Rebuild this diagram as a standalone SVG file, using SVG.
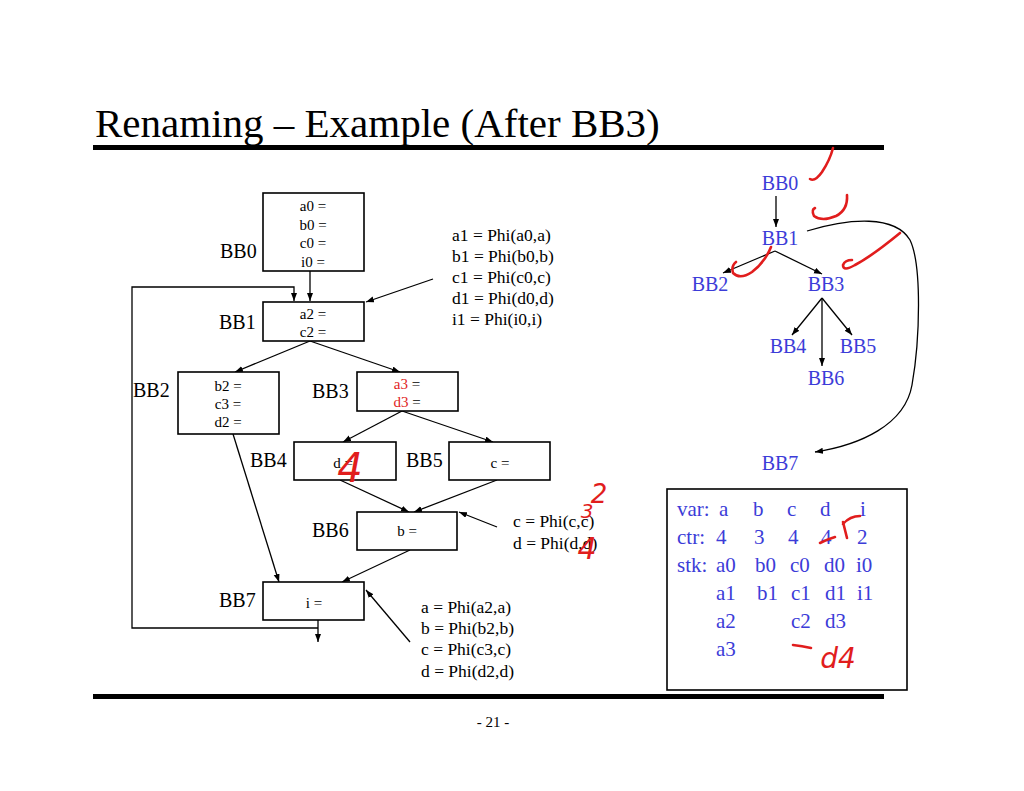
<svg xmlns="http://www.w3.org/2000/svg" width="1024" height="791" viewBox="0 0 1024 791">
<defs>
<marker id="ah" markerWidth="9" markerHeight="7" refX="8" refY="3" orient="auto" markerUnits="userSpaceOnUse">
<path d="M0,0 L8,3 L0,6 z" fill="#000"/>
</marker>
<style>
.t{font-family:"Liberation Serif","Times New Roman",serif;fill:#000}
.lbl{font-size:20px}
.bx{font-size:15px;text-anchor:middle}
.phi{font-size:17.5px}
.tr{font-size:20px;fill:#3c3cd8;text-anchor:middle}
.tb{font-size:21px;fill:#3c3cd8}
.box{fill:#fff;stroke:#000;stroke-width:1.6}
.c{fill:none;stroke:#000;stroke-width:1.3}
.a{marker-end:url(#ah)}
.ink{fill:none;stroke:#e11d1d;stroke-width:2.6;stroke-linecap:round;stroke-linejoin:round}
.hw{font-family:"DejaVu Sans",sans-serif;font-style:italic;fill:#e11d1d}
.red{fill:#e11d1d}
</style>
</defs>
<rect width="1024" height="791" fill="#fff"/>

<text class="t" x="95" y="137" font-size="41">Renaming – Example (After BB3)</text>
<rect x="93" y="145" width="791" height="5" fill="#000"/>
<rect x="93" y="694" width="791" height="5" fill="#000"/>
<text class="t" x="493" y="727" font-size="15" text-anchor="middle">- 21 -</text>

<g id="connectors">
<path class="c a" d="M310,271 L310,301"/>
<path class="c a" d="M318,620 L318,642"/>
<path class="c a" d="M318,628 L132,628 L132,287 L294,287 L294,301"/>
<path class="c a" d="M310,341 L235,372"/>
<path class="c a" d="M310,341 L400,372"/>
<path class="c a" d="M402,411 L343,442"/>
<path class="c a" d="M402,411 L493,442"/>
<path class="c a" d="M340,480 L409,512"/>
<path class="c a" d="M497,480 L414,512"/>
<path class="c a" d="M233,434 L279,582"/>
<path class="c a" d="M410,550 L342,582"/>
<path class="c a" d="M433,279 L366,302"/>
<path class="c a" d="M497,527 L459,512"/>
<path class="c a" d="M410,642 L366,590"/>
<path class="c a" d="M776,196 L776,227"/>
<path class="c a" d="M775,251 L723,273"/>
<path class="c a" d="M775,251 L822,274"/>
<path class="c a" d="M822,298 L792,335"/>
<path class="c a" d="M822,298 L852,335"/>
<path class="c a" d="M822,298 L822,366"/>
<path class="c a" d="M807,231 C850,218 895,215 910,240 C922,265 920,340 912,385 C905,425 860,445 815,452"/>
</g>

<g id="BB0">
<rect class="box" x="263" y="193" width="101" height="78"/>
<text class="t lbl" x="220" y="258">BB0</text>
<text class="t bx" x="313" y="211">a0 =</text>
<text class="t bx" x="313" y="230">b0 =</text>
<text class="t bx" x="313" y="248">c0 =</text>
<text class="t bx" x="313" y="267">i0 =</text>
</g>
<g id="BB1">
<rect class="box" x="263" y="302" width="101" height="39"/>
<text class="t lbl" x="219" y="329">BB1</text>
<text class="t bx" x="313" y="319">a2 =</text>
<text class="t bx" x="313" y="337">c2 =</text>
</g>
<g id="BB2">
<rect class="box" x="178" y="372" width="101" height="62"/>
<text class="t lbl" x="133" y="397">BB2</text>
<text class="t bx" x="228" y="391">b2 =</text>
<text class="t bx" x="228" y="409">c3 =</text>
<text class="t bx" x="228" y="427">d2 =</text>
</g>
<g id="BB3">
<rect class="box" x="357" y="372" width="101" height="39"/>
<text class="t lbl" x="312" y="398">BB3</text>
<text class="t bx" x="407" y="389"><tspan class="red">a3</tspan> =</text>
<text class="t bx" x="407" y="407"><tspan class="red">d3</tspan> =</text>
</g>
<g id="BB4">
<rect class="box" x="294" y="442" width="102" height="38"/>
<text class="t lbl" x="250" y="467">BB4</text>
<text class="t bx" x="343" y="468">d =</text>
</g>
<g id="BB5">
<rect class="box" x="449" y="442" width="101" height="38"/>
<text class="t lbl" x="406" y="467">BB5</text>
<text class="t bx" x="500" y="468">c =</text>
</g>
<g id="BB6">
<rect class="box" x="357" y="512" width="100" height="38"/>
<text class="t lbl" x="312" y="537">BB6</text>
<text class="t bx" x="407" y="536">b =</text>
</g>
<g id="BB7">
<rect class="box" x="263" y="582" width="101" height="38"/>
<text class="t lbl" x="219" y="607">BB7</text>
<text class="t bx" x="314" y="608">i =</text>
</g>

<g id="phi1">
<text class="t phi" x="452" y="241">a1 = Phi(a0,a)</text>
<text class="t phi" x="452" y="262">b1 = Phi(b0,b)</text>
<text class="t phi" x="452" y="283">c1 = Phi(c0,c)</text>
<text class="t phi" x="452" y="304">d1 = Phi(d0,d)</text>
<text class="t phi" x="452" y="325">i1 = Phi(i0,i)</text>
</g>
<g id="phi6">
<text class="t phi" x="513" y="527">c = Phi(c,c)</text>
<text class="t phi" x="513" y="549">d = Phi(d,d)</text>
</g>
<g id="phi7">
<text class="t phi" x="421" y="613">a = Phi(a2,a)</text>
<text class="t phi" x="421" y="634">b = Phi(b2,b)</text>
<text class="t phi" x="421" y="655">c = Phi(c3,c)</text>
<text class="t phi" x="421" y="677">d = Phi(d2,d)</text>
</g>

<g id="tree">
<text class="t tr" x="780" y="190">BB0</text>
<text class="t tr" x="780" y="245">BB1</text>
<text class="t tr" x="710" y="291">BB2</text>
<text class="t tr" x="826" y="291">BB3</text>
<text class="t tr" x="788" y="353">BB4</text>
<text class="t tr" x="858" y="353">BB5</text>
<text class="t tr" x="826" y="385">BB6</text>
<text class="t tr" x="780" y="470">BB7</text>
</g>

<g id="table">
<rect class="box" x="667" y="489" width="240" height="201"/>
<g class="t tb">
<text x="677" y="516">var:</text><text x="719" y="516">a</text><text x="753" y="516">b</text><text x="787" y="516">c</text><text x="820" y="516">d</text><text x="860" y="516">i</text>
<text x="677" y="544">ctr:</text><text x="716" y="544">4</text><text x="754" y="544">3</text><text x="788" y="544">4</text><text x="821" y="544">4</text><text x="857" y="544">2</text>
<text x="677" y="572">stk:</text><text x="716" y="572">a0</text><text x="755" y="572">b0</text><text x="790" y="572">c0</text><text x="824" y="572">d0</text><text x="856" y="572">i0</text>
<text x="716" y="600">a1</text><text x="757" y="600">b1</text><text x="791" y="600">c1</text><text x="825" y="600">d1</text><text x="857" y="600">i1</text>
<text x="716" y="628">a2</text><text x="791" y="628">c2</text><text x="825" y="628">d3</text>
<text x="716" y="656">a3</text>
</g>
</g>

<g id="ink">
<path class="ink" d="M810,179 Q815,182 822,172 Q830,160 833,148"/>
<path class="ink" d="M847,195 Q848,210 836,216 Q822,222 814,216 Q811,210 815,208"/>
<path class="ink" d="M900,233 Q872,256 855,265 Q843,272 843,265 Q845,260 852,260"/>
<path class="ink" d="M771,247 Q765,262 752,272 Q740,280 733,273 Q731,266 736,262"/>
<path class="ink" d="M820,543 Q828,539 835,537"/>
<path class="ink" d="M843,522 Q845,530 847,538 M843,524 Q850,516 860,516"/>
<path class="ink" d="M793,645 Q802,646 811,648"/>
<text class="hw" x="350" y="482" font-size="40" text-anchor="middle">4</text>
<text class="hw" x="599" y="503" font-size="26" text-anchor="middle">2</text>
<text class="hw" x="587" y="518" font-size="20" text-anchor="middle">3</text>
<text class="hw" x="587" y="559" font-size="30" text-anchor="middle">4</text>
<text class="hw" x="838" y="668" font-size="28" text-anchor="middle">d4</text>
</g>
</svg>
